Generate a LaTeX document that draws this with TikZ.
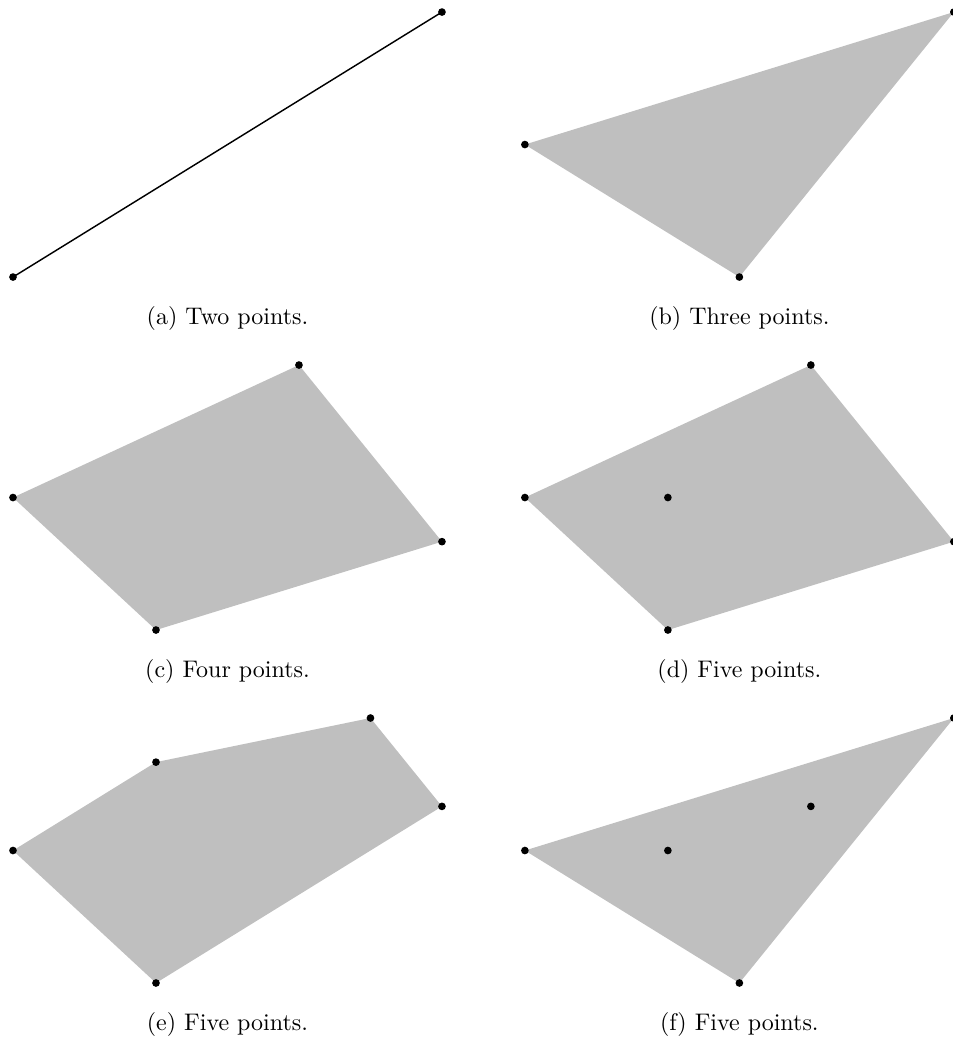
\documentclass[tikz,border=0pt]{standalone}
\usetikzlibrary{calc}
\begin{document}
\begin{tikzpicture}[x=59.58pt,y=55.21pt,
    hull/.style={fill=black!25},
    vtx/.style={fill=black},
    seg/.style={line width=0.6pt}]
  \useasboundingbox (-0.0909,-0.415) rectangle (6.573,7.419);

  % (a) two points
  \begin{scope}[shift={(0,5.328)}]
    \coordinate (a1) at (0,0);
    \coordinate (a2) at (3,2);
    \draw[seg] (a1) -- (a2);
    \foreach \p in {a1,a2} {
      \fill[vtx] (\p) circle (1.6pt);
    }
    \node (capa) at (1.5,-0.31) {(a)\ Two points.};
  \end{scope}

  % (b) three points
  \begin{scope}[shift={(3.58,5.328)}]
    \coordinate (b1) at (0,1);
    \coordinate (b2) at (3,2);
    \coordinate (b3) at (1.5,0);
    \fill[hull] (b1) -- (b2) -- (b3) -- cycle;
    \foreach \p in {b1,b2,b3} {
      \fill[vtx] (\p) circle (1.6pt);
    }
    \node (capb) at (1.5,-0.31) {(b)\ Three points.};
  \end{scope}

  % (c) four points
  \begin{scope}[shift={(0,2.664)}]
    \coordinate (c1) at (0,1);
    \coordinate (c2) at (2,2);
    \coordinate (c3) at (3,0.667);
    \coordinate (c4) at (1,0);
    \fill[hull] (c1) -- (c2) -- (c3) -- (c4) -- cycle;
    \foreach \p in {c1,c2,c3,c4} {
      \fill[vtx] (\p) circle (1.6pt);
    }
    \node (capc) at (1.5,-0.31) {(c)\ Four points.};
  \end{scope}

  % (d) five points, one inside
  \begin{scope}[shift={(3.58,2.664)}]
    \coordinate (d1) at (0,1);
    \coordinate (d2) at (2,2);
    \coordinate (d3) at (3,0.667);
    \coordinate (d4) at (1,0);
    \coordinate (d5) at (1,1);
    \fill[hull] (d1) -- (d2) -- (d3) -- (d4) -- cycle;
    \foreach \p in {d1,d2,d3,d4,d5} {
      \fill[vtx] (\p) circle (1.6pt);
    }
    \node (capd) at (1.5,-0.31) {(d)\ Five points.};
  \end{scope}

  % (e) five points, all on the hull
  \begin{scope}[shift={(0,0)}]
    \coordinate (e1) at (0,1);
    \coordinate (e2) at (1,1.667);
    \coordinate (e3) at (2.5,2);
    \coordinate (e4) at (3,1.333);
    \coordinate (e5) at (1,0);
    \fill[hull] (e1) -- (e2) -- (e3) -- (e4) -- (e5) -- cycle;
    \foreach \p in {e1,e2,e3,e4,e5} {
      \fill[vtx] (\p) circle (1.6pt);
    }
    \node (cape) at (1.5,-0.31) {(e)\ Five points.};
  \end{scope}

  % (f) five points, two inside
  \begin{scope}[shift={(3.58,0)}]
    \coordinate (f1) at (0,1);
    \coordinate (f2) at (3,2);
    \coordinate (f3) at (1.5,0);
    \coordinate (f4) at (1,1);
    \coordinate (f5) at (2,1.333);
    \fill[hull] (f1) -- (f2) -- (f3) -- cycle;
    \foreach \p in {f1,f2,f3,f4,f5} {
      \fill[vtx] (\p) circle (1.6pt);
    }
    \node (capf) at (1.5,-0.31) {(f)\ Five points.};
  \end{scope}
\end{tikzpicture}
\end{document}
